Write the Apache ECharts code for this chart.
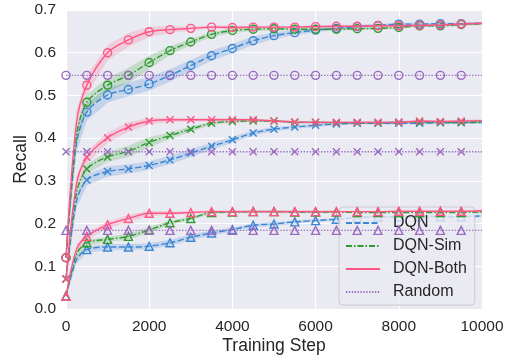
<!DOCTYPE html>
<html><head><meta charset="utf-8">
<script src="https://cdn.jsdelivr.net/npm/echarts@6/dist/echarts.min.js"></script>
<style>html,body{margin:0;padding:0;background:#fff}#c{width:509px;height:360px}</style>
</head><body><div id="c"></div>
<script>
var steps = [0,250,500,1000,1500,2000,2500,3000,3500,4000,4500,5000,5500,6000,6500,7000,7500,8000,8500,9000,9500,10000];
var xTicks = [0,2000,4000,6000,8000,10000];
var yTicks = [0.0,0.1,0.2,0.3,0.4,0.5,0.6,0.7];
var seriesNames = ['DQN','DQN-Sim','DQN-Both','Random'];

// circle group
var dqnCircle  = [0.12,0.386,0.461,0.501,0.514,0.527,0.547,0.570,0.593,0.610,0.628,0.640,0.647,0.653,0.657,0.661,0.664,0.667,0.667,0.668,0.668,0.669];
var simCircle  = [0.12,0.404,0.484,0.524,0.547,0.577,0.605,0.625,0.643,0.652,0.655,0.656,0.655,0.655,0.655,0.656,0.657,0.659,0.663,0.663,0.666,0.668];
var bothCircle = [0.12,0.435,0.524,0.600,0.630,0.649,0.654,0.657,0.660,0.659,0.660,0.660,0.660,0.661,0.662,0.662,0.663,0.663,0.664,0.665,0.667,0.669];
var randCircle = [0.547,0.547,0.547,0.547,0.547,0.547,0.547,0.547,0.547,0.547,0.547,0.547,0.547,0.547,0.547,0.547,0.547,0.547,0.547,0.547,0.547,0.547];
// cross group
var dqnCross  = [0.07,0.251,0.302,0.322,0.328,0.336,0.349,0.365,0.381,0.396,0.412,0.421,0.426,0.430,0.433,0.435,0.435,0.435,0.435,0.436,0.436,0.437];
var simCross  = [0.07,0.271,0.328,0.356,0.369,0.390,0.406,0.421,0.435,0.439,0.440,0.440,0.437,0.437,0.436,0.436,0.436,0.437,0.438,0.437,0.437,0.438];
var bothCross = [0.07,0.292,0.355,0.401,0.426,0.440,0.443,0.443,0.443,0.443,0.443,0.440,0.438,0.437,0.437,0.437,0.437,0.437,0.440,0.439,0.440,0.441];
var randCross = [0.368,0.368,0.368,0.368,0.368,0.368,0.368,0.368,0.368,0.368,0.368,0.368,0.368,0.368,0.368,0.368,0.368,0.368,0.368,0.368,0.368,0.368];
// triangle group
var dqnTri  = [0.03,0.115,0.139,0.145,0.145,0.147,0.155,0.168,0.178,0.186,0.196,0.199,0.204,0.207,0.210,0.214,0.216,0.216,0.216,0.216,0.216,0.218];
var simTri  = [0.03,0.128,0.155,0.163,0.170,0.185,0.202,0.212,0.226,0.227,0.228,0.228,0.227,0.227,0.227,0.226,0.226,0.226,0.226,0.226,0.226,0.227];
var bothTri = [0.03,0.139,0.170,0.197,0.212,0.224,0.224,0.226,0.228,0.228,0.228,0.228,0.228,0.228,0.228,0.228,0.228,0.229,0.229,0.229,0.229,0.230];
var randTri = [0.184,0.184,0.184,0.184,0.184,0.184,0.184,0.184,0.184,0.184,0.184,0.184,0.184,0.184,0.184,0.184,0.184,0.184,0.184,0.184,0.184,0.184];

// confidence band half-widths
var bandDqnCircle  = [0.004,0.02,0.02,0.018,0.016,0.016,0.015,0.013,0.012,0.011,0.010,0.008,0.006,0.005,0.004,0.004,0.003,0.003,0.003,0.003,0.003,0.003];
var bandSimCircle  = [0.004,0.02,0.018,0.016,0.018,0.016,0.010,0.007,0.006,0.005,0.004,0.004,0.003,0.003,0.003,0.003,0.003,0.003,0.003,0.003,0.003,0.003];
var bandBothCircle = [0.004,0.03,0.022,0.018,0.016,0.012,0.008,0.005,0.004,0.004,0.003,0.003,0.003,0.003,0.003,0.003,0.003,0.003,0.003,0.003,0.003,0.003];
var bandDqnCross   = [0.004,0.015,0.013,0.012,0.011,0.010,0.010,0.009,0.008,0.007,0.006,0.005,0.004,0.004,0.003,0.003,0.003,0.003,0.003,0.003,0.003,0.003];
var bandSimCross   = [0.004,0.015,0.012,0.012,0.013,0.012,0.008,0.006,0.004,0.003,0.003,0.003,0.003,0.003,0.003,0.003,0.003,0.003,0.003,0.003,0.003,0.003];
var bandBothCross  = [0.004,0.02,0.015,0.012,0.011,0.008,0.005,0.004,0.004,0.004,0.003,0.003,0.003,0.003,0.003,0.003,0.003,0.003,0.003,0.003,0.003,0.003];
var bandDqnTri     = [0.003,0.009,0.008,0.007,0.007,0.007,0.007,0.007,0.006,0.005,0.004,0.004,0.004,0.003,0.003,0.003,0.003,0.003,0.003,0.003,0.003,0.003];
var bandSimTri     = [0.003,0.009,0.007,0.006,0.007,0.007,0.005,0.004,0.003,0.003,0.003,0.003,0.003,0.003,0.003,0.003,0.003,0.003,0.003,0.003,0.003,0.003];
var bandBothTri    = [0.003,0.012,0.009,0.008,0.008,0.006,0.004,0.003,0.003,0.003,0.003,0.003,0.003,0.003,0.003,0.003,0.003,0.003,0.003,0.003,0.003,0.003];

var colors = {'DQN':'#3b86d2','DQN-Sim':'#2f9a2f','DQN-Both':'#ff5585','Random':'#9a6bbf'};
var bandColors = {'DQN':'rgba(59,134,210,0.22)','DQN-Sim':'rgba(47,154,47,0.2)','DQN-Both':'rgba(255,85,133,0.2)'};
var dash = {'DQN':[6,2.5],'DQN-Sim':[6,2,1.5,2],'DQN-Both':'solid','Random':[1.3,1.6]};
var xSym = 'path://M0,0L10,10M10,0L0,10';

var groups = [
  {sym:'circle', size:8, vals:[dqnCircle,simCircle,bothCircle,randCircle], bands:[bandDqnCircle,bandSimCircle,bandBothCircle,null]},
  {sym:xSym, size:7, vals:[dqnCross,simCross,bothCross,randCross], bands:[bandDqnCross,bandSimCross,bandBothCross,null]},
  {sym:'triangle', size:8, vals:[dqnTri,simTri,bothTri,randTri], bands:[bandDqnTri,bandSimTri,bandBothTri,null]}
];

function bandSeries(vals, band, color) {
  return {type:'custom', silent:true, z:1, clip:true,
    data:[[steps[0], vals[0]]],
    renderItem:function(params, api){
      var upper = steps.map(function(s,i){return api.coord([s, vals[i]+band[i]]);});
      var lower = steps.map(function(s,i){return api.coord([s, vals[i]-band[i]]);}).reverse();
      return {type:'polygon', shape:{points:upper.concat(lower)}, style:{fill:color, stroke:null}};
    }};
}

var series = [];
var gi = 0;
groups.forEach(function(g){
  gi++;
  g.vals.forEach(function(vals, si){
    var name = seriesNames[si];
    var band = g.bands[si];
    if (band) series.push(bandSeries(vals, band, bandColors[name]));
    series.push({type:'line', name:name+'_g'+gi, smooth:0.3, z:3+si,
      symbol:g.sym, symbolSize:g.size, showAllSymbol:true,
      lineStyle:{color:colors[name], width:1.4, type:dash[name]},
      itemStyle:{color:'rgba(0,0,0,0)', borderColor:colors[name], borderWidth:1.4},
      data: steps.map(function(s,i){
        var item = {value:[s, vals[i]]};
        if (s % 500 !== 0 || s === 10000) item.symbol = 'none';
        return item;
      })});
  });
});
seriesNames.forEach(function(name){
  series.push({type:'line', name:name, symbol:'none', data:[],
    lineStyle:{color:colors[name], width:1.4, type:dash[name]},
    itemStyle:{color:'rgba(0,0,0,0)', borderColor:'rgba(0,0,0,0)', borderWidth:0}});
});

var font = 'Liberation Sans, Arial, sans-serif';
var chart = echarts.init(document.getElementById('c'), null, {renderer:'canvas'});
chart.setOption({
  animation:false,
  backgroundColor:'#ffffff',
  grid:{left:66, right:27, top:10, bottom:47, show:true, backgroundColor:'#eaeaf2', borderWidth:0},
  xAxis:{type:'value', min:0, max:10000, interval:2000,
    name:'Training Step', nameLocation:'middle', nameGap:28, nameMoveOverlap:false,
    nameTextStyle:{fontFamily:font, fontSize:17.5, color:'#262626'},
    axisLine:{show:false}, axisTick:{show:false},
    axisLabel:{fontFamily:font, fontSize:15.5, color:'#262626', margin:10,
      formatter:function(v){return xTicks.indexOf(v)>=0 ? String(v) : '';}},
    splitLine:{show:true, lineStyle:{color:'#ffffff', width:1.2}}},
  yAxis:{type:'value', min:0, max:0.7, interval:0.1,
    name:'Recall', nameLocation:'middle', nameGap:36, nameRotate:90, nameMoveOverlap:false,
    nameTextStyle:{fontFamily:font, fontSize:17.5, color:'#262626'},
    axisLine:{show:false}, axisTick:{show:false},
    axisLabel:{fontFamily:font, fontSize:15.5, color:'#262626', margin:10,
      formatter:function(v){var t=yTicks.filter(function(k){return Math.abs(k-v)<1e-9;}); return t.length? t[0].toFixed(1):'';}},
    splitLine:{show:true, lineStyle:{color:'#ffffff', width:1.2}}},
  legend:{data:seriesNames, orient:'vertical', left:339, top:207,
    padding:[8,8,5,6], itemGap:7, itemWidth:34, itemHeight:16,
    itemStyle:{color:'rgba(0,0,0,0)', borderColor:'rgba(0,0,0,0)', borderWidth:0},
    backgroundColor:'rgba(234,234,242,0.8)', borderColor:'#cccccc', borderWidth:1, borderRadius:4,
    textStyle:{fontFamily:font, fontSize:16, color:'#262626', padding:[0,0,0,8]},
    selectedMode:false},
  series:series
});
</script></body></html>
